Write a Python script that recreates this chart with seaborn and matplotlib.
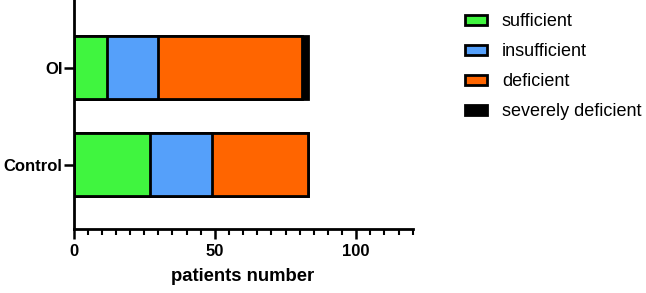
import matplotlib
matplotlib.use("Agg")
import matplotlib.pyplot as plt
import seaborn as sns
import pandas as pd
import numpy as np
from matplotlib.patches import Patch
from matplotlib.ticker import MultipleLocator

groups = ["OI", "Control"]
categories = ["sufficient", "insufficient", "deficient", "severely deficient"]
sufficient = [12, 27]
insufficient = [18, 22]
deficient = [51, 34]
severely_deficient = [2, 0]
colors = ["#40F53F", "#55A0FA", "#FF6500", "#000000"]

sns.set_theme(style="ticks")
plt.rcParams['font.family'] = ['Liberation Sans', 'DejaVu Sans']
plt.rcParams['text.color'] = 'black'

series = [sufficient, insufficient, deficient, severely_deficient]
cum = np.cumsum(np.array(series), axis=0)

fig = plt.figure(figsize=(6.46, 2.93), dpi=100)
ax = fig.add_axes([73.5/646, 1 - 229/293, (412.7-73.5)/646, 229/293])

for i in range(len(categories) - 1, -1, -1):
    df = pd.DataFrame({"group": groups, "value": cum[i]})
    sns.barplot(data=df, x="value", y="group", orient="h", color=colors[i],
                edgecolor="black", linewidth=2, width=0.65, ax=ax, saturation=1)

ax.set_xlim(0, 120)
ax.set_ylim(1.66, -0.70)
ax.xaxis.set_major_locator(MultipleLocator(50))
ax.xaxis.set_minor_locator(MultipleLocator(5))
ax.set_xlabel("patients number", fontsize=13.3, fontweight="bold", labelpad=6, color="black")
ax.set_ylabel("")
for lab in ax.get_xticklabels() + ax.get_yticklabels():
    lab.set_fontweight("bold")
    lab.set_fontsize(12)
    lab.set_color("black")
ax.tick_params(axis="both", which="major", length=7, width=1.8, color="black")
ax.tick_params(axis="x", which="minor", length=4, width=1.5, color="black")
ax.tick_params(axis="y", pad=1)
ax.tick_params(axis="x", pad=4)
sns.despine(ax=ax)
for s in ["left", "bottom"]:
    ax.spines[s].set_linewidth(2)
    ax.spines[s].set_color("black")

handles = [Patch(facecolor=c, edgecolor="black", linewidth=2) for c in colors]
fig.legend(handles, categories, loc="upper left", bbox_to_anchor=(451/646, 1 + 1.0/293),
           frameon=False, fontsize=13, handlelength=1.22, handleheight=0.5,
           labelspacing=0.72, handletextpad=0.8, borderpad=0.3)

fig.savefig("out.png", dpi=100)
